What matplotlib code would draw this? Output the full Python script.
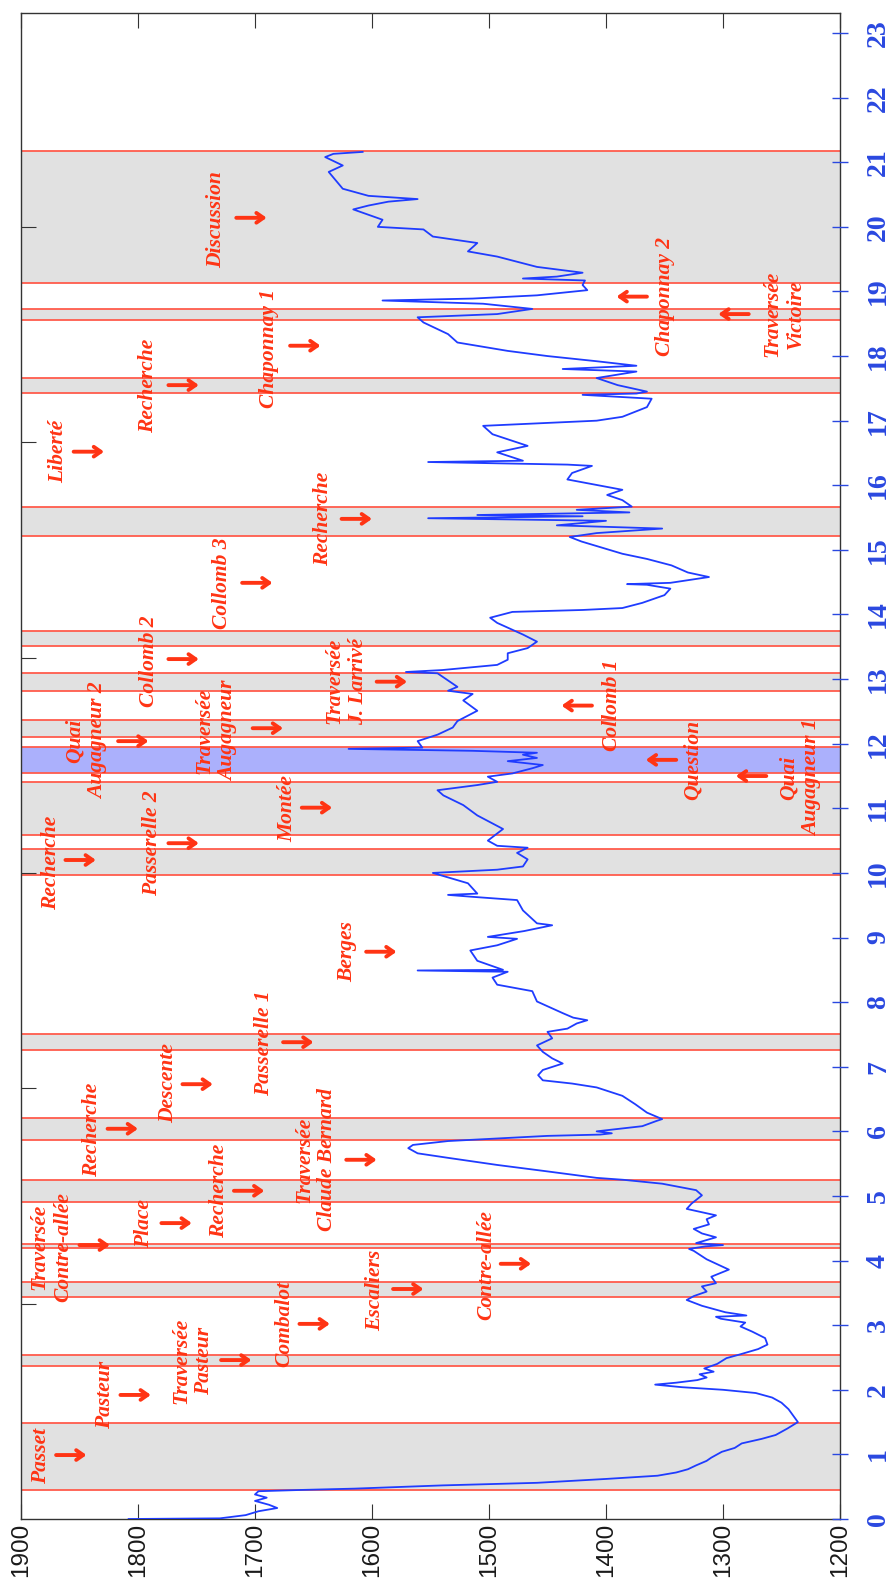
import matplotlib
matplotlib.use("Agg")
import matplotlib.pyplot as plt

# elevation profile: time (h) / altitude (m)
t_pts = [0.00, 0.01, 0.06, 0.12, 0.17, 0.22, 0.28, 0.33, 0.38, 0.43, 0.45, 0.47, 0.52, 0.56, 0.62,
         0.67, 0.72, 0.77, 0.83, 0.90, 0.95, 1.04, 1.10, 1.17, 1.24, 1.30, 1.40, 1.50, 1.60, 1.70,
         1.80, 1.88, 1.95, 2.00, 2.04, 2.08, 2.11, 2.15, 2.19, 2.24, 2.28, 2.33, 2.40, 2.49, 2.55,
         2.63, 2.70, 2.80, 2.90, 2.98, 3.04, 3.10, 3.13, 3.15, 3.20, 3.30, 3.39, 3.45, 3.52, 3.60,
         3.65, 3.75, 3.86, 3.91, 4.02, 4.15, 4.18, 4.22, 4.24, 4.27, 4.36, 4.42, 4.49, 4.56, 4.64,
         4.70, 4.80, 4.88, 5.01, 5.09, 5.19, 5.25, 5.28, 5.38, 5.48, 5.59, 5.66, 5.74, 5.79, 5.85,
         5.89, 5.93, 5.95, 5.97, 6.00, 6.08, 6.16, 6.19, 6.29, 6.42, 6.55, 6.68, 6.74, 6.79, 6.87,
         6.95, 7.05, 7.13, 7.23, 7.33, 7.44, 7.54, 7.59, 7.67, 7.72, 7.76, 7.83, 8.01, 8.17, 8.27,
         8.38, 8.47, 8.49, 8.50, 8.64, 8.80, 8.88, 8.98, 9.01, 9.10, 9.19, 9.22, 9.42, 9.58, 9.63,
         9.66, 9.68, 9.84, 10.00, 10.05, 10.10, 10.21, 10.31, 10.39, 10.42, 10.50, 10.68, 10.89, 11.05, 11.20,
         11.28, 11.36, 11.41, 11.49, 11.54, 11.62, 11.67, 11.73, 11.78, 11.83, 11.86, 11.89, 11.92, 11.94, 12.04,
         12.14, 12.25, 12.35, 12.51, 12.67, 12.77, 12.82, 12.88, 13.09, 13.11, 13.14, 13.22, 13.30, 13.40, 13.48,
         13.58, 13.69, 13.87, 13.95, 14.04, 14.07, 14.10, 14.18, 14.30, 14.40, 14.46, 14.47, 14.49, 14.58, 14.65,
         14.76, 14.86, 14.94, 15.13, 15.20, 15.26, 15.33, 15.38, 15.45, 15.49, 15.52, 15.54, 15.58, 15.62, 15.67,
         15.77, 15.85, 15.93, 16.09, 16.19, 16.30, 16.32, 16.36, 16.38, 16.51, 16.61, 16.79, 16.92, 17.00, 17.06,
         17.21, 17.34, 17.40, 17.42, 17.45, 17.55, 17.66, 17.76, 17.80, 17.85, 17.92, 18.00, 18.08, 18.21, 18.34,
         18.52, 18.60, 18.65, 18.73, 18.81, 18.86, 18.89, 18.94, 19.02, 19.10, 19.17, 19.20, 19.23, 19.29, 19.38,
         19.54, 19.62, 19.75, 19.85, 19.96, 20.00, 20.11, 20.27, 20.33, 20.39, 20.43, 20.48, 20.59, 20.85, 20.95,
         21.08, 21.13, 21.16]
alt_pts = [1808, 1730, 1708, 1697, 1681, 1688, 1700, 1690, 1700, 1697, 1660, 1615, 1540, 1459, 1400,
           1356, 1340, 1330, 1323, 1314, 1310, 1301, 1290, 1284, 1267, 1255, 1245, 1236, 1240, 1244,
           1250, 1258, 1272, 1300, 1335, 1358, 1340, 1322, 1314, 1320, 1308, 1316, 1305, 1297, 1285,
           1270, 1262, 1264, 1275, 1285, 1281, 1302, 1306, 1280, 1298, 1318, 1331, 1325, 1314, 1318,
           1306, 1310, 1295, 1301, 1314, 1325, 1329, 1315, 1300, 1323, 1306, 1318, 1325, 1312, 1314,
           1306, 1331, 1327, 1318, 1323, 1352, 1385, 1408, 1450, 1493, 1535, 1561, 1569, 1565, 1535,
           1493, 1450, 1405, 1395, 1408, 1369, 1357, 1352, 1365, 1375, 1386, 1408, 1429, 1454, 1458,
           1454, 1437, 1446, 1454, 1459, 1446, 1450, 1433, 1425, 1416, 1428, 1437, 1459, 1463, 1493,
           1497, 1484, 1561, 1488, 1510, 1516, 1493, 1476, 1501, 1470, 1446, 1459, 1471, 1476, 1514,
           1535, 1510, 1518, 1548, 1493, 1471, 1467, 1476, 1467, 1493, 1501, 1488, 1510, 1522, 1539,
           1544, 1510, 1493, 1501, 1480, 1463, 1454, 1484, 1459, 1471, 1459, 1514, 1620, 1557, 1561,
           1544, 1531, 1527, 1510, 1522, 1514, 1535, 1527, 1544, 1571, 1540, 1493, 1484, 1484, 1467,
           1459, 1471, 1493, 1499, 1480, 1420, 1386, 1369, 1350, 1345, 1365, 1382, 1345, 1312, 1330,
           1344, 1365, 1386, 1421, 1431, 1408, 1352, 1442, 1400, 1552, 1420, 1510, 1380, 1425, 1378,
           1386, 1399, 1386, 1433, 1429, 1412, 1433, 1552, 1471, 1493, 1467, 1497, 1505, 1408, 1386,
           1365, 1361, 1420, 1374, 1365, 1390, 1408, 1374, 1437, 1374, 1408, 1450, 1484, 1527, 1535,
           1556, 1561, 1493, 1463, 1505, 1591, 1514, 1459, 1416, 1420, 1418, 1471, 1442, 1420, 1459,
           1493, 1518, 1510, 1548, 1556, 1595, 1591, 1616, 1603, 1586, 1561, 1603, 1625, 1637, 1625,
           1640, 1633, 1608]

# shaded segments (h)
grey_start = [0.45, 2.37, 3.43, 4.19, 4.90, 5.86, 7.26, 9.97, 10.59, 12.11, 12.81, 13.52, 15.22, 17.43, 18.56, 19.13]
grey_end = [1.49, 2.54, 3.67, 4.26, 5.25, 6.21, 7.51, 10.37, 11.40, 12.36, 13.10, 13.74, 15.66, 17.66, 18.73, 21.17]
blue_start, blue_end = 11.54, 11.95

# annotations: text, time, altitude of text, altitude of arrow tail, arrow direction
labels = ["Discussion", "Chaponnay 2", "Traversée\nVictoire", "Chaponnay 1", "Recherche", "Liberté",
          "Recherche", "Collomb 3", "Collomb 2", "Traversée\nJ. Larrivé", "Collomb 1", "Quai\nAugagneur 2",
          "Traversée\nAugagneur", "Question", "Quai\nAugagneur 1", "Passerelle 2", "Montée", "Recherche",
          "Berges", "Passerelle 1", "Descente", "Recherche", "Traversée\nClaude Bernard", "Recherche",
          "Place", "Traversée\nContre-allée", "Contre-allée", "Escaliers", "Combalot", "Traversée\nPasteur",
          "Pasteur", "Passet"]
lab_t = [20.12, 18.92, 18.65, 18.11, 17.54, 16.52, 15.48, 14.49, 13.28, 12.97, 12.59, 12.04,
         12.20, 11.75, 11.47, 10.46, 10.99, 10.15, 8.78, 7.37, 6.75, 6.02, 5.56, 5.08,
         4.58, 4.21, 3.93, 3.54, 3.02, 2.45, 1.92, 0.98]
lab_alt = [1733, 1350, 1248, 1688, 1791, 1868, 1642, 1728, 1791, 1622, 1395, 1844,
           1733, 1326, 1234, 1788, 1672, 1874, 1621, 1692, 1774, 1839, 1648, 1731,
           1795, 1874, 1502, 1597, 1675, 1753, 1828, 1883]
arr_t = [20.14, 18.92, 18.65, 18.16, 17.55, 16.52, 15.48, 14.49, 13.31, 12.96, 12.59, 12.04,
         12.24, 11.75, 11.50, 10.46, 11.01, 10.20, 8.78, 7.38, 6.73, 6.04, 5.56, 5.08,
         4.58, 4.24, 3.95, 3.56, 3.02, 2.46, 1.92, 0.99]
arr_alt = [1716, 1365, 1278, 1670, 1774, 1855, 1626, 1711, 1774, 1596, 1412, 1817,
           1702, 1340, 1263, 1774, 1660, 1862, 1605, 1676, 1762, 1826, 1622, 1718,
           1780, 1850, 1490, 1582, 1662, 1729, 1815, 1870]
arr_dir = [1, -1, -1, 1, 1, 1, 1, 1, 1, 1, -1, 1,
           1, -1, -1, 1, 1, 1, 1, 1, 1, 1, 1, 1,
           1, 1, 1, 1, 1, 1, 1, 1]

alt_ticks = [1200, 1300, 1400, 1500, 1600, 1700, 1800, 1900]
hour_ticks = list(range(24))

RED = '#ff3414'
EDGE = '#ff5c4c'
BLUE = '#1f3cff'
TICKBLUE = '#2a48e0'

fig = plt.figure(figsize=(8.96, 15.8), dpi=100)
ax = fig.add_axes([21/896, 1-1519/1580, 819/896, 1506/1580])
ax.set_xlim(1900, 1200)
ax.set_ylim(0, 23.31)

for s, e in zip(grey_start, grey_end):
    ax.axhspan(s, e, facecolor='#e1e1e1', edgecolor='none', zorder=0)
    ax.axhline(s, color=EDGE, lw=1.3, zorder=1)
    ax.axhline(e, color=EDGE, lw=1.3, zorder=1)
ax.axhspan(blue_start, blue_end, facecolor='#abb0fc', edgecolor='none', zorder=0)
ax.axhline(blue_start, color=EDGE, lw=1.3, zorder=1)
ax.axhline(blue_end, color=EDGE, lw=1.3, zorder=1)

ax.plot(alt_pts, t_pts, color=BLUE, lw=1.3, zorder=3)

for txt, t, a, ta, aa, d in zip(labels, lab_t, lab_alt, arr_t, arr_alt, arr_dir):
    ax.text(a, t, txt, rotation=90, ha='center', va='center', multialignment='center',
            color=RED, fontsize=15.5, family='Liberation Serif', weight='bold', style='italic',
            linespacing=1.2, zorder=4)
    ax.annotate('', xy=(aa - 26*d, ta), xytext=(aa, ta),
                arrowprops=dict(arrowstyle='->,head_length=0.5,head_width=0.35', color=RED,
                                lw=2.8, shrinkA=0, shrinkB=0), zorder=4)

for sp in ax.spines.values():
    sp.set_color('#333333')
    sp.set_linewidth(1.0)

ax.set_xticks(alt_ticks)
ax.tick_params(axis='x', direction='in', length=11, width=0.8, color='#333333', top=True,
               bottom=True, labelsize=17.5, labelcolor='#1a1a1a', pad=3)
for lab in ax.get_xticklabels():
    lab.set_rotation(90)
    lab.set_family('Liberation Sans')

ax.set_yticks([10/3*i for i in range(1, 7)])
ax.tick_params(axis='y', direction='in', length=11, width=0.8, color='#333333', left=True,
               right=False, labelleft=False)

ax2 = ax.twinx()
ax2.set_ylim(0, 23.31)
ax2.set_yticks(hour_ticks)
ax2.tick_params(axis='y', direction='inout', length=11.5, width=1.0, color=TICKBLUE,
                labelcolor=TICKBLUE, labelsize=20, pad=13)
for lab in ax2.get_yticklabels():
    lab.set_rotation(90)
    lab.set_va('center')
    lab.set_family('Liberation Serif')
    lab.set_weight('bold')
for sp in ax2.spines.values():
    sp.set_visible(False)

fig.savefig('out.png', dpi=100)
